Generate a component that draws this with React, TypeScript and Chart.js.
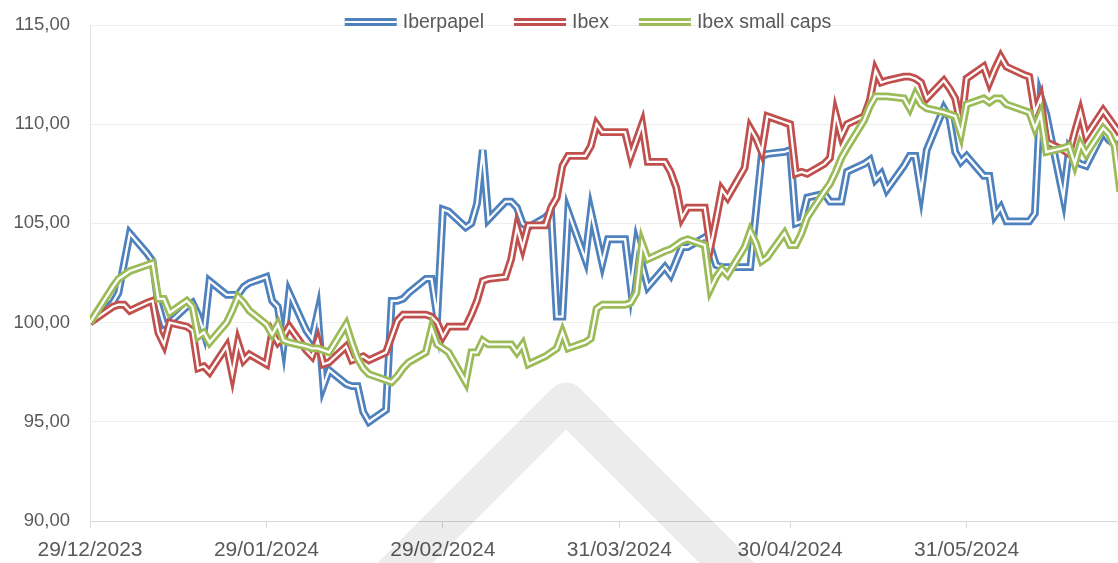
import React, { useEffect, useRef } from "react";
import { Chart, registerables } from "chart.js";

Chart.register(...registerables);

const dates: string[] = [
  "29/12/2023",
  "02/01/2024", "03/01/2024", "04/01/2024", "05/01/2024",
  "08/01/2024", "09/01/2024", "10/01/2024", "11/01/2024", "12/01/2024",
  "15/01/2024", "16/01/2024", "17/01/2024", "18/01/2024", "19/01/2024",
  "22/01/2024", "23/01/2024", "24/01/2024", "25/01/2024", "26/01/2024",
  "29/01/2024", "30/01/2024", "31/01/2024", "01/02/2024", "02/02/2024",
  "05/02/2024", "06/02/2024", "07/02/2024", "08/02/2024", "09/02/2024",
  "12/02/2024", "13/02/2024", "14/02/2024", "15/02/2024", "16/02/2024",
  "19/02/2024", "20/02/2024", "21/02/2024", "22/02/2024", "23/02/2024",
  "26/02/2024", "27/02/2024", "28/02/2024", "29/02/2024", "01/03/2024",
  "04/03/2024", "05/03/2024", "06/03/2024", "07/03/2024", "08/03/2024",
  "11/03/2024", "12/03/2024", "13/03/2024", "14/03/2024", "15/03/2024",
  "18/03/2024", "19/03/2024", "20/03/2024", "21/03/2024", "22/03/2024",
  "25/03/2024", "26/03/2024", "27/03/2024", "28/03/2024", "29/03/2024",
  "01/04/2024", "02/04/2024", "03/04/2024", "04/04/2024", "05/04/2024",
  "08/04/2024", "09/04/2024", "10/04/2024", "11/04/2024", "12/04/2024",
  "15/04/2024", "16/04/2024", "17/04/2024", "18/04/2024", "19/04/2024",
  "22/04/2024", "23/04/2024", "24/04/2024", "25/04/2024", "26/04/2024",
  "29/04/2024", "30/04/2024", "01/05/2024", "02/05/2024", "03/05/2024",
  "06/05/2024", "07/05/2024", "08/05/2024", "09/05/2024", "10/05/2024",
  "13/05/2024", "14/05/2024", "15/05/2024", "16/05/2024", "17/05/2024",
  "20/05/2024", "21/05/2024", "22/05/2024", "23/05/2024", "24/05/2024",
  "27/05/2024", "28/05/2024", "29/05/2024", "30/05/2024", "31/05/2024",
  "03/06/2024", "04/06/2024", "05/06/2024", "06/06/2024", "07/06/2024",
  "10/06/2024", "11/06/2024", "12/06/2024", "13/06/2024", "14/06/2024",
  "17/06/2024", "18/06/2024", "19/06/2024", "20/06/2024", "21/06/2024",
  "24/06/2024", "25/06/2024", "26/06/2024", "27/06/2024", "28/06/2024",
];

const iberpapel: number[] = [
  100.0,
  101.0, 101.5, 103.0, 104.5,
  103.5, 103.1, 100.9, 99.9, 100.0,
  100.8, 101.0, 100.4, 99.5, 102.1,
  101.4, 101.4, 101.4, 101.8, 102.0,
  102.3, 101.1, 100.8, 98.9, 101.5,
  99.6, 99.2, 100.5, 96.8, 97.6,
  96.9, 96.8, 96.8, 95.5, 95.0,
  95.6, 101.1, 101.1, 101.2, 101.5,
  102.2, 102.2, 100.3, 105.7, 105.6,
  104.8, 105.0, 106.0, 108.7, 105.2,
  106.1, 106.1, 105.8, 105.0, 104.8,
  105.3, 105.6, 100.3, 100.3, 105.6,
  103.2, 105.6, 104.3, 103.0, 104.2,
  104.2, 101.8, 104.0, 102.9, 101.8,
  102.8, 102.4, 103.1, 103.8, 103.8,
  104.3, 103.8, 102.9, 102.8, 102.8,
  102.8, 102.8, 105.6, 108.4, 108.5,
  108.6, 108.7, 105.0, 105.1, 106.3,
  106.5, 106.1, 106.1, 106.1, 107.6,
  108.0, 108.2, 107.2, 107.5, 106.7,
  107.9, 108.4, 108.4, 106.6, 108.7,
  110.8, 110.3, 108.6, 108.1, 108.4,
  107.4, 107.4, 105.4, 105.8, 105.1,
  105.1, 105.1, 105.5, 111.4, 110.5,
  106.3, 108.7, 108.2, 108.0, 107.9,
  109.6, 109.2, 109.0, 108.9, 108.8,
];

const ibex: number[] = [
  100.0,
  100.8, 100.9, 100.9, 100.6,
  101.0, 101.1, 99.5, 98.9, 100.0,
  99.8, 99.6, 97.7, 97.8, 97.5,
  98.8, 97.4, 99.0, 98.1, 98.4,
  97.9, 99.5, 99.0, 99.3, 99.8,
  98.6, 98.3, 99.1, 97.9, 98.0,
  98.8, 98.1, 98.2, 98.3, 98.1,
  98.5, 99.3, 100.1, 100.4, 100.4,
  100.4, 100.3, 100.0, 99.3, 99.8,
  99.8, 100.4, 101.1, 102.1, 102.2,
  102.3, 103.2, 104.8, 103.8, 104.9,
  104.9, 105.8, 106.3, 107.9, 108.4,
  108.4, 108.9, 110.0, 109.6, 109.6,
  109.6, 108.4, 109.2, 110.0, 108.1,
  108.1, 107.6, 106.8, 105.3, 105.8,
  105.8, 103.8, 105.2, 106.7, 106.3,
  107.8, 109.8, 109.3, 108.6, 110.4,
  110.1, 110.0, 107.5, 107.6, 107.5,
  108.0, 108.3, 110.5, 109.4, 110.0,
  110.4, 111.2, 112.7, 112.1, 112.2,
  112.4, 112.4, 112.3, 112.1, 111.3,
  112.2, 111.8, 111.3, 109.9, 112.3,
  112.9, 112.1, 112.8, 113.4, 112.9,
  112.5, 112.4, 110.6, 111.3, 109.1,
  108.7, 108.5, 109.6, 110.6, 109.4,
  110.7, 110.3, 109.9, 109.5, 109.3,
];

const ibexSmallCaps: number[] = [
  100.0,
  101.8, 102.2, 102.4, 102.6,
  102.9, 103.0, 101.2, 101.2, 100.5,
  101.1, 100.8, 99.3, 99.5, 99.0,
  100.0, 100.6, 101.3, 101.0, 100.6,
  99.9, 99.4, 99.9, 99.1, 99.0,
  98.8, 98.7, 98.7, 98.6, 98.5,
  99.9, 99.0, 98.2, 97.7, 97.4,
  97.1, 97.0, 97.3, 97.7, 98.0,
  98.5, 99.7, 98.9, 98.7, 98.5,
  97.0, 98.5, 98.5, 99.1, 98.9,
  98.9, 98.9, 98.5, 98.9, 97.9,
  98.3, 98.5, 98.7, 99.5, 98.7,
  99.0, 99.2, 100.7, 100.9, 100.9,
  100.9, 101.0, 101.5, 104.0, 103.2,
  103.6, 103.7, 103.9, 104.1, 104.2,
  103.9, 101.7, 102.3, 102.7, 102.4,
  103.8, 104.6, 104.0, 103.1, 103.3,
  104.5, 103.9, 103.9, 104.5, 105.3,
  106.6, 107.0, 107.6, 108.3, 108.8,
  110.2, 110.9, 111.4, 111.4, 111.4,
  111.3, 110.8, 111.5, 111.0, 110.8,
  110.6, 110.5, 110.4, 109.5, 111.0,
  111.3, 111.1, 111.3, 111.3, 111.0,
  110.7, 110.6, 109.8, 110.5, 108.6,
  108.8, 108.9, 108.0, 109.0, 108.5,
  109.8, 109.5, 108.9, 106.6, 106.2,
];

const seriesNames: string[] = ["Iberpapel", "Ibex", "Ibex small caps"];
const seriesValues: number[][] = [iberpapel, ibex, ibexSmallCaps];
const seriesColors: string[] = ["#4F81BD", "#C0504D", "#9BBB59"];

const xTickLabels: string[] = [
  "29/12/2023",
  "29/01/2024",
  "29/02/2024",
  "31/03/2024",
  "30/04/2024",
  "31/05/2024",
];
const yMin = 90;
const yMax = 115;
const yStep = 5;
const xEndDays = 180.6;

const FONT = "'Liberation Sans', Arial, sans-serif";
const TEXT = "#595959";

function toUTC(s: string): number {
  const [d, m, y] = s.split("/").map(Number);
  return Date.UTC(y, m - 1, d);
}
const baseTime = toUTC(dates[0]);
function dayOf(s: string): number {
  return Math.round((toUTC(s) - baseTime) / 86400000);
}

const legendPlugin = {
  id: "doubleLineLegend",
  afterDraw(chart: any) {
    const ctx = chart.ctx as CanvasRenderingContext2D;
    ctx.save();
    ctx.font = `19.5px ${FONT}`;
    ctx.textBaseline = "middle";
    const sampleW = 52;
    const gap = 6;
    const itemGap = 30;
    const widths = seriesNames.map((n) => sampleW + gap + ctx.measureText(n).width);
    const total = widths.reduce((a, b) => a + b, 0) + itemGap * (widths.length - 1);
    let x = 588 - total / 2;
    const y = 22;
    seriesNames.forEach((name, i) => {
      ctx.fillStyle = seriesColors[i];
      ctx.fillRect(x, y - 4, sampleW, 8);
      ctx.fillStyle = "#ffffff";
      ctx.fillRect(x, y - 1, sampleW, 2);
      ctx.fillStyle = TEXT;
      ctx.textAlign = "left";
      ctx.fillText(name, x + sampleW + gap, y + 1);
      x += widths[i] + itemGap;
    });
    ctx.restore();
  },
};

const watermarkPlugin = {
  id: "watermark",
  beforeDatasetsDraw(chart: any) {
    const ctx = chart.ctx as CanvasRenderingContext2D;
    ctx.save();
    ctx.strokeStyle = "rgba(0,0,0,0.075)";
    ctx.lineWidth = 39;
    ctx.lineJoin = "round";
    ctx.lineCap = "butt";
    ctx.beginPath();
    ctx.moveTo(566 - 260, 402 + 260);
    ctx.lineTo(566, 402);
    ctx.lineTo(566 + 260, 402 + 260);
    ctx.stroke();
    ctx.restore();
  },
};

export default function App() {
  const canvasRef = useRef<HTMLCanvasElement | null>(null);

  useEffect(() => {
    if (!canvasRef.current) return;
    const datasets: any[] = [];
    seriesNames.forEach((name, i) => {
      const pts = dates.map((d, k) => ({ x: dayOf(d), y: seriesValues[i][k] }));
      const rank = seriesNames.length - 1 - i;
      datasets.push({
        label: name,
        data: pts,
        borderColor: seriesColors[i],
        borderWidth: 7.8,
        pointRadius: 0,
        tension: 0,
        fill: false,
        order: rank * 2 + 1,
      });
      datasets.push({
        label: name + " inner",
        data: pts,
        borderColor: "#ffffff",
        borderWidth: 2.3,
        pointRadius: 0,
        tension: 0,
        fill: false,
        order: rank * 2,
      });
    });

    const tickDays = xTickLabels.map(dayOf);
    const labelByDay: Record<number, string> = {};
    xTickLabels.forEach((l, i) => (labelByDay[tickDays[i]] = l));

    const chart = new Chart(canvasRef.current, {
      type: "line",
      data: { datasets },
      options: {
        animation: false,
        responsive: true,
        maintainAspectRatio: false,
        events: [],
        layout: { padding: { top: 25, right: 0, bottom: 0, left: 0 } },
        plugins: {
          legend: { display: false },
          tooltip: { enabled: false },
        },
        scales: {
          x: {
            type: "linear",
            min: 0,
            max: xEndDays,
            afterBuildTicks: (scale: any) => {
              scale.ticks = tickDays.map((v) => ({ value: v }));
            },
            afterFit: (scale: any) => {
              scale.height = 42;
            },
            ticks: {
              autoSkip: false,
              maxRotation: 0,
              minRotation: 0,
              padding: 10,
              color: TEXT,
              font: { family: FONT, size: 21 },
              callback: (v: any) => labelByDay[Math.round(Number(v))] ?? "",
            },
            grid: {
              drawOnChartArea: false,
              drawTicks: true,
              tickLength: 7,
              color: "#d9d9d9",
            },
            border: { display: true, color: "#d9d9d9", width: 1 },
          },
          y: {
            type: "linear",
            min: yMin,
            max: yMax,
            afterFit: (scale: any) => {
              scale.width = 90;
            },
            ticks: {
              stepSize: yStep,
              padding: 0,
              color: TEXT,
              font: { family: FONT, size: 18.5 },
              callback: (v: any) => Number(v).toFixed(2).replace(".", ","),
            },
            grid: {
              color: "#eeeeee",
              drawTicks: true,
              tickLength: 20,
              tickColor: "rgba(0,0,0,0)",
              lineWidth: 1,
            },
            border: { display: true, color: "#e3e3e3", width: 1 },
          },
        },
      },
      plugins: [watermarkPlugin, legendPlugin],
    });
    return () => chart.destroy();
  }, []);

  return (
    <div style={{ position: "absolute", left: 0, top: 0, width: 1118, height: 563, background: "#ffffff" }}>
      <canvas ref={canvasRef} />
    </div>
  );
}
